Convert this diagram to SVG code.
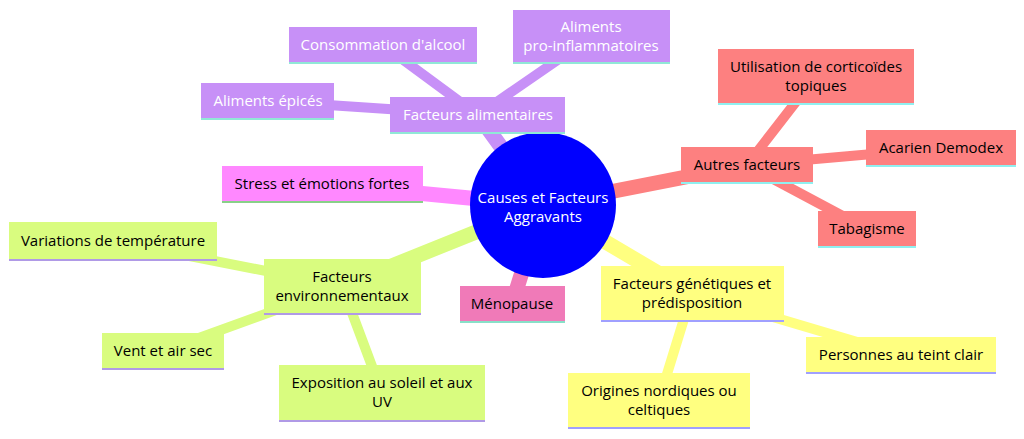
<svg xmlns="http://www.w3.org/2000/svg" width="1024" height="439" viewBox="0 0 1024 439">
<style>
text{font-family:"Open Sans","Liberation Sans",sans-serif;font-size:15px;text-anchor:middle}
.w{fill:#fff}.d{fill:#000}
.p{fill:#c790f7}.r{fill:#fd8080}.m{fill:#ff88ff}.k{fill:#f07ab8}.y{fill:#ffff80}.g{fill:#d9fc7f}
.bp{stroke:#90e8d6;stroke-width:2}.br{stroke:#8ff0f0;stroke-width:2}.bm{stroke:#88d088;stroke-width:2}.bk{stroke:#88e0c8;stroke-width:2}.by{stroke:#a0a0ff;stroke-width:2}.bg{stroke:#b09ae6;stroke-width:2}
.e{fill:none;stroke-linecap:round}
</style>
<g id="connectors" class="e">
<g stroke="#c790f7"><path d="M543 205 L478 115" stroke-width="15"/><path d="M478 115 L383 45" stroke-width="10"/><path d="M478 115 L591 37" stroke-width="10"/><path d="M478 115 L268 101" stroke-width="10"/></g>
<g stroke="#fd8080"><path d="M543 205 L747 165" stroke-width="15"/><path d="M747 165 L816 76" stroke-width="10"/><path d="M747 165 L941 148" stroke-width="10"/><path d="M747 165 L867 229" stroke-width="10"/></g>
<path d="M543 205 L322 184" stroke="#ff88ff" stroke-width="15"/>
<path d="M543 205 L512 304" stroke="#f07ab8" stroke-width="15"/>
<g stroke="#ffff80"><path d="M543 205 L692 293" stroke-width="15"/><path d="M692 293 L901 355" stroke-width="10"/><path d="M692 293 L659 400" stroke-width="10"/></g>
<g stroke="#d9fc7f"><path d="M543 205 L342 286" stroke-width="15"/><path d="M342 286 L113 241" stroke-width="10"/><path d="M342 286 L163 351" stroke-width="10"/><path d="M342 286 L382 393" stroke-width="10"/></g>
</g>
<g id="root"><circle cx="543" cy="205" r="73" fill="#0000ff"/><text class="w" x="543" y="203">Causes et Facteurs</text><text class="w" x="543" y="222">Aggravants</text></g>
<g id="n1"><rect class="p" x="390" y="97" width="175" height="36"/><line class="bp" x1="390" y1="133" x2="565" y2="133"/><text class="w" x="478" y="120">Facteurs alimentaires</text></g>
<g id="n2"><rect class="p" x="289" y="27" width="188" height="36"/><line class="bp" x1="289" y1="63" x2="477" y2="63"/><text class="w" x="383" y="50">Consommation d'alcool</text></g>
<g id="n3"><rect class="p" x="513" y="10" width="157" height="53"/><line class="bp" x1="513" y1="63" x2="670" y2="63"/><text class="w" x="591" y="32">Aliments</text><text class="w" x="591" y="51">pro-inflammatoires</text></g>
<g id="n4"><rect class="p" x="201" y="83" width="133" height="36"/><line class="bp" x1="201" y1="119" x2="334" y2="119"/><text class="w" x="268" y="106">Aliments épicés</text></g>
<g id="n5"><rect class="r" x="681" y="147" width="132" height="36"/><line class="br" x1="681" y1="183" x2="813" y2="183"/><text class="d" x="747" y="170">Autres facteurs</text></g>
<g id="n6"><rect class="r" x="718" y="49" width="196" height="55"/><line class="br" x1="718" y1="104" x2="914" y2="104"/><text class="d" x="816" y="72">Utilisation de corticoïdes</text><text class="d" x="816" y="91">topiques</text></g>
<g id="n7"><rect class="r" x="866" y="130" width="150" height="36"/><line class="br" x1="866" y1="166" x2="1016" y2="166"/><text class="d" x="941" y="153">Acarien Demodex</text></g>
<g id="n8"><rect class="r" x="818" y="211" width="98" height="36"/><line class="br" x1="818" y1="247" x2="916" y2="247"/><text class="d" x="867" y="234">Tabagisme</text></g>
<g id="n9"><rect class="m" x="222" y="166" width="201" height="36"/><line class="bm" x1="222" y1="202" x2="423" y2="202"/><text class="d" x="322" y="189">Stress et émotions fortes</text></g>
<g id="n10"><rect class="k" x="460" y="286" width="105" height="36"/><line class="bk" x1="460" y1="322" x2="565" y2="322"/><text class="d" x="512" y="309">Ménopause</text></g>
<g id="n11"><rect class="y" x="601" y="266" width="183" height="55"/><line class="by" x1="601" y1="321" x2="784" y2="321"/><text class="d" x="692" y="289">Facteurs génétiques et</text><text class="d" x="692" y="308">prédisposition</text></g>
<g id="n12"><rect class="y" x="806" y="337" width="190" height="36"/><line class="by" x1="806" y1="373" x2="996" y2="373"/><text class="d" x="901" y="360">Personnes au teint clair</text></g>
<g id="n13"><rect class="y" x="568" y="373" width="182" height="55"/><line class="by" x1="568" y1="428" x2="750" y2="428"/><text class="d" x="659" y="396">Origines nordiques ou</text><text class="d" x="659" y="415">celtiques</text></g>
<g id="n14"><rect class="g" x="264" y="259" width="157" height="55"/><line class="bg" x1="264" y1="314" x2="421" y2="314"/><text class="d" x="342" y="282">Facteurs</text><text class="d" x="342" y="301">environnementaux</text></g>
<g id="n15"><rect class="g" x="9" y="222" width="208" height="38"/><line class="bg" x1="9" y1="260" x2="217" y2="260"/><text class="d" x="113" y="246">Variations de température</text></g>
<g id="n16"><rect class="g" x="102" y="333" width="122" height="36"/><line class="bg" x1="102" y1="369" x2="224" y2="369"/><text class="d" x="163" y="356">Vent et air sec</text></g>
<g id="n17"><rect class="g" x="279" y="365" width="206" height="56"/><line class="bg" x1="279" y1="421" x2="485" y2="421"/><text class="d" x="382" y="388">Exposition au soleil et aux</text><text class="d" x="382" y="407">UV</text></g>
</svg>
